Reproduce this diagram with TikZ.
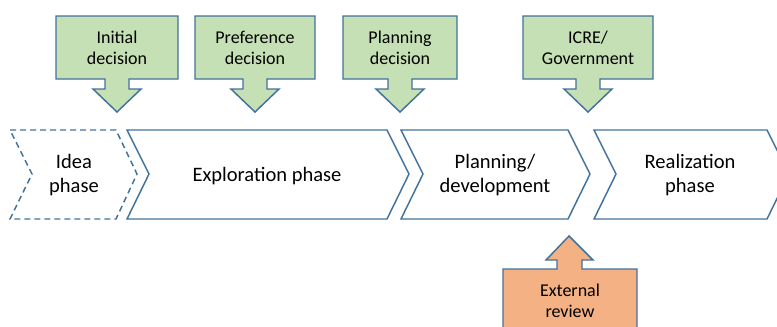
\documentclass[tikz,border=0pt]{standalone}
\usepackage{fontspec}
\setmainfont{Carlito}
\definecolor{phaseblue}{RGB}{65,113,156}
\definecolor{decisiongreen}{RGB}{197,224,180}
\definecolor{revieworange}{RGB}{244,177,131}
\tikzset{
  phasetext/.style={align=center,font=\fontsize{15.4}{18.5}\selectfont},
  calltext/.style={align=center,font=\fontsize{13.5}{15.8}\selectfont}
}
\begin{document}
\begin{tikzpicture}[x=0.75pt,y=-0.75pt,line width=1.1pt]
\useasboundingbox (0,0) rectangle (777,326);
\clip (0,0) rectangle (777,326);
% phases
\draw[phaseblue,dash pattern=on 4.5pt off 3pt] (10,130)--(116,130)--(137,174)--(116,219)--(10,219)--(32,174)--cycle;
\foreach \l/\r in {127/387,401/568,594/767}{
\draw[phaseblue] (\l,130)--(\r,130)--(\r+22,174)--(\r,219)--(\l,219)--(\l+22,174)--cycle;
}
\node[phasetext] (idea) at (74,175) {Idea\\phase};
\node[phasetext] (explore) at (267,176) {Exploration phase};
\node[phasetext] (plan) at (495,175) {Planning/\\development};
\node[phasetext] (real) at (690,175) {Realization\\phase};
% decisions
\foreach \c/\w/\t [count=\i] in {117/61/{Initial\\decision},255/60/{Preference\\decision},400/57/{Planning\\decision},588/65/{ICRE/\\Government}}{
\draw[phaseblue,fill=decisiongreen] (\c-\w,16)--(\c+\w,16)--(\c+\w,79)--(\c+12,79)--(\c+12,89)--(\c+24,89)--(\c,112)--(\c-24,89)--(\c-12,89)--(\c-12,79)--(\c-\w,79)--cycle;
\node[calltext] (decision\i) at (\c,47.5) {\t};
}
% review
\draw[phaseblue,fill=revieworange] (503,335)--(503,269)--(557,269)--(557,260)--(546,260)--(569,236)--(593,260)--(582,260)--(582,269)--(637,269)--(637,335);
\node[calltext] (review) at (570,301) {External\\review};
\end{tikzpicture}
\end{document}
